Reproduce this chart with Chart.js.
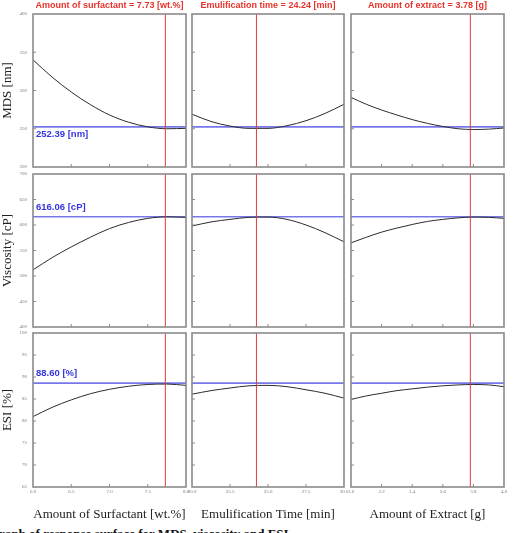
<!DOCTYPE html>
<html>
<head>
<meta charset="utf-8">
<script src="https://cdn.jsdelivr.net/npm/chart.js@4.4.1/dist/chart.umd.min.js"></script>
<style>
  body { margin: 0; width: 513px; height: 533px; overflow: hidden; background: #fff; position: relative; }
  canvas { position: absolute; }
  #caption { position: absolute; left: -11px; top: 526px; white-space: nowrap; color: #111;
    font: bold 13px "Liberation Serif", "Times New Roman", serif; }
</style>
</head>
<body>
<canvas id="p00"></canvas><canvas id="p01"></canvas><canvas id="p02"></canvas>
<canvas id="p10"></canvas><canvas id="p11"></canvas><canvas id="p12"></canvas>
<canvas id="p20"></canvas><canvas id="p21"></canvas><canvas id="p22"></canvas>
<div id="caption">Graph of response surface for MDS, viscosity and ESI</div>
<script>
// factor levels
const surfactant = [6.0, 6.25, 6.5, 6.75, 7.0, 7.25, 7.5, 7.75, 8.0];
const emulTime = [20, 21.25, 22.5, 23.75, 25, 26.25, 27.5, 28.75, 30];
const extract = [3.0, 3.1, 3.2, 3.3, 3.4, 3.5, 3.6, 3.7, 3.8, 3.9, 4.0];

// responses
const mdsSurf = [340, 317.5, 298, 281.5, 268, 258.5, 252.5, 250, 250.5];
const mdsTime = [269, 259.5, 253.5, 250.5, 250.5, 254, 260.5, 270, 282];
const mdsExtract = [291, 282, 274.5, 268, 262, 257, 253, 250, 249, 249.5, 251];

const viscSurf = [512, 536, 557, 576, 593, 605, 613, 616, 615];
const viscTime = [598, 606, 611, 615, 615.5, 611, 600, 585, 567];
const viscExtract = [565, 576, 586, 594, 601, 607, 611, 614, 615.5, 615, 613];

const esiSurf = [81, 83.1, 84.8, 86.2, 87.2, 87.9, 88.3, 88.4, 88.1];
const esiTime = [86.1, 86.9, 87.5, 88.0, 88.1, 87.8, 87.1, 86.3, 85.2];
const esiExtract = [84.9, 85.7, 86.3, 86.9, 87.3, 87.7, 88.0, 88.2, 88.3, 88.2, 87.8];

// optimum settings (red lines) and predicted responses (blue lines)
const optFactors = [7.73, 24.24, 3.78];
const optResponses = [252.39, 616.06, 88.60];

// axis ranges: [min, max, step]
const xRanges = [[6, 8, 0.5], [20, 30, 2.5], [3, 4, 0.2]];
const yRanges = [[200, 400, 50], [400, 700, 50], [65, 100, 5]];

const colHeaders = ['Amount of surfactant = 7.73 [wt.%]', 'Emulification time = 24.24 [min]', 'Amount of extract = 3.78 [g]'];
const xTitles = ['Amount of Surfactant [wt.%]', 'Emulification Time [min]', 'Amount of Extract [g]'];
const yTitles = ['MDS [nm]', 'Viscosity [cP]', 'ESI [%]'];
const optLabels = ['252.39 [nm]', '616.06 [cP]', '88.60 [%]'];

const xValues = [surfactant, emulTime, extract];
const responses = [
  [mdsSurf, mdsTime, mdsExtract],
  [viscSurf, viscTime, viscExtract],
  [esiSurf, esiTime, esiExtract]
];

// layout of the grid (pixels)
const colLeft = [0, 159, 318];
const plotW = [153, 152, 153];
const rowTop = [0, 170, 329];
const plotH = [153, 153, 154];
const yAxisW = 33;
const serif = '"Liberation Serif", "Times New Roman", serif';

// grey frame round the plot + small inside tick marks
const frame = {
  id: 'frame',
  afterDraw(chart) {
    const { ctx, chartArea: a, scales } = chart;
    ctx.save();
    ctx.strokeStyle = '#8a8a8a';
    ctx.lineWidth = 1;
    ctx.beginPath();
    for (const t of scales.x.ticks) {
      const px = scales.x.getPixelForValue(t.value);
      if (px <= a.left + 1 || px >= a.right - 1) continue;
      ctx.moveTo(px, a.bottom); ctx.lineTo(px, a.bottom - 3);
    }
    for (const t of scales.y.ticks) {
      const py = scales.y.getPixelForValue(t.value);
      if (py <= a.top + 1 || py >= a.bottom - 1) continue;
      ctx.moveTo(a.left, py); ctx.lineTo(a.left + 3, py);
    }
    ctx.stroke();
    ctx.lineWidth = 1.6;
    ctx.strokeRect(a.left, a.top, a.right - a.left, a.bottom - a.top);
    ctx.restore();
  }
};

// blue text with the predicted value
const optLabel = {
  id: 'optLabel',
  afterDraw(chart, args, opts) {
    if (!opts.text) return;
    const { ctx, chartArea: a, scales } = chart;
    ctx.save();
    ctx.font = 'bold 9.5px "Liberation Sans", Arial, sans-serif';
    ctx.fillStyle = '#3434e0';
    ctx.textBaseline = 'middle';
    ctx.fillText(opts.text, a.left + 3, scales.y.getPixelForValue(opts.value) + opts.offset);
    ctx.restore();
  }
};

function makePanel(row, col) {
  const canvas = document.getElementById('p' + row + col);
  const padTop = row === 0 ? 0 : 4;
  const titleH = row === 0 ? 14 : 0;
  const xAxisH = row === 2 ? 35 : 4;
  const w = yAxisW + plotW[col] + 4;
  const h = padTop + titleH + plotH[row] + xAxisH;
  canvas.width = w; canvas.height = h;
  canvas.style.left = colLeft[col] + 'px';
  canvas.style.top = rowTop[row] + 'px';

  const [xMin, xMax, xStep] = xRanges[col];
  const [yMin, yMax, yStep] = yRanges[row];
  const xs = xValues[col];
  const ys = responses[row][col];
  const curve = xs.map((x, i) => ({ x: x, y: ys[i] }));

  new Chart(canvas, {
    type: 'line',
    data: {
      datasets: [
        { data: [{ x: optFactors[col], y: yMin }, { x: optFactors[col], y: yMax }], borderColor: '#e23b3b', borderWidth: 1 },
        { data: curve, borderColor: '#2b2b2b', borderWidth: 1, cubicInterpolationMode: 'monotone' },
        { data: [{ x: xMin, y: optResponses[row] }, { x: xMax, y: optResponses[row] }], borderColor: '#7777ea', borderWidth: 1.6 }
      ]
    },
    options: {
      responsive: false,
      animation: false,
      elements: { point: { radius: 0 } },
      layout: { padding: { top: padTop, right: 4, left: 0, bottom: 0 } },
      plugins: {
        legend: { display: false },
        tooltip: { enabled: false },
        title: {
          display: row === 0,
          fullSize: false, // keep it centred over the plot, not the canvas
          text: colHeaders[col],
          color: '#e8322b',
          font: { family: '"Liberation Sans", Arial, sans-serif', size: 9, weight: 'bold', lineHeight: 1.2 },
          padding: { top: 0.5, bottom: 14 - 9 * 1.2 - 0.5 }
        },
        optLabel: col === 0 ? { text: optLabels[row], value: optResponses[row], offset: row === 0 ? 7.5 : -9.5 } : {}
      },
      scales: {
        x: {
          type: 'linear', min: xMin, max: xMax,
          grid: { display: false, drawTicks: false },
          border: { display: false },
          ticks: {
            display: row === 2, stepSize: xStep, autoSkip: false, maxRotation: 0, padding: 2,
            color: '#777', font: { family: serif, size: 5 },
            callback: v => v.toFixed(1)
          },
          title: { display: row === 2, text: xTitles[col], color: '#222', font: { family: serif, size: 13 }, padding: 0 },
          afterFit(s) { s.height = xAxisH; s.paddingLeft = 0; s.paddingRight = 0; }
        },
        y: {
          min: yMin, max: yMax,
          grid: { display: false, drawTicks: false },
          border: { display: false },
          ticks: { display: col === 0, stepSize: yStep, padding: 6, color: '#777', font: { family: serif, size: 5 } },
          title: { display: col === 0, text: yTitles[row], color: '#222', font: { family: serif, size: 13 }, padding: 0 },
          afterFit(s) { s.width = yAxisW; s.paddingTop = 0; s.paddingBottom = 0; }
        }
      }
    },
    plugins: [frame, optLabel]
  });
}

for (let r = 0; r < 3; r++) {
  for (let c = 0; c < 3; c++) makePanel(r, c);
}
</script>
</body>
</html>
